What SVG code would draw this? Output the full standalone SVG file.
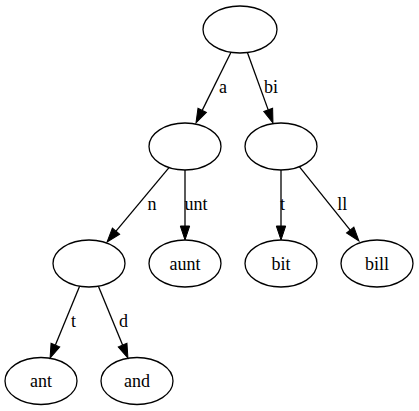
<svg xmlns="http://www.w3.org/2000/svg" width="419" height="411" viewBox="0 0 419 411">
<style>
.n ellipse{fill:none;stroke:#000;stroke-width:1.3}
text{font-family:"Liberation Serif","Times New Roman",serif;font-size:18px;fill:#000;text-anchor:middle}
.e line{stroke:#000;stroke-width:1.3;marker-end:url(#ah)}
</style>
<defs>
<marker id="ah" markerUnits="userSpaceOnUse" markerWidth="16" markerHeight="12" refX="0" refY="4.7" orient="auto" viewBox="0 0 16 12" overflow="visible">
<path d="M0,0 L14,4.7 L0,9.4 z" fill="#000" stroke="#000" stroke-width="1"/>
</marker>
</defs>
<rect width="419" height="411" fill="#fff"/>
<g id="root" class="n"><ellipse cx="240" cy="29.5" rx="37" ry="23.5"/></g>
<g id="a" class="n"><ellipse cx="185" cy="146.5" rx="36" ry="23.5"/></g>
<g id="bi" class="n"><ellipse cx="281" cy="146.5" rx="36" ry="23.5"/></g>
<g id="an" class="n"><ellipse cx="89" cy="263.5" rx="36" ry="23.5"/></g>
<g id="aunt" class="n"><ellipse cx="185" cy="263.5" rx="36" ry="23.5"/><text x="185" y="269.5">aunt</text></g>
<g id="bit" class="n"><ellipse cx="281" cy="263.5" rx="36" ry="23.5"/><text x="281" y="269.5">bit</text></g>
<g id="bill" class="n"><ellipse cx="377" cy="263.5" rx="36" ry="23.5"/><text x="377" y="269.5">bill</text></g>
<g id="ant" class="n"><ellipse cx="41" cy="381" rx="36" ry="23.5"/><text x="41" y="387">ant</text></g>
<g id="and" class="n"><ellipse cx="137" cy="381" rx="36" ry="23.5"/><text x="137" y="387">and</text></g>
<g id="edges" class="e">
<line x1="231" y1="52.3" x2="202.2" y2="110.4"/>
<text x="223" y="93">a</text>
<line x1="247.4" y1="52.5" x2="268.2" y2="109.9"/>
<text x="271" y="93">bi</text>
<line x1="169" y1="167.6" x2="116" y2="231.2"/>
<text x="152" y="209.5">n</text>
<line x1="185" y1="170" x2="185" y2="226"/>
<text x="196" y="209.5">unt</text>
<line x1="281" y1="170" x2="281" y2="226"/>
<text x="282.5" y="209.5">t</text>
<line x1="299.3" y1="166.7" x2="350.2" y2="230.1"/>
<text x="342.3" y="209.5">ll</text>
<line x1="79.6" y1="286.2" x2="55.4" y2="345.1"/>
<text x="73.5" y="327.3">t</text>
<line x1="98.4" y1="286.2" x2="122.6" y2="345.1"/>
<text x="123.5" y="327.3">d</text>
</g>
</svg>
